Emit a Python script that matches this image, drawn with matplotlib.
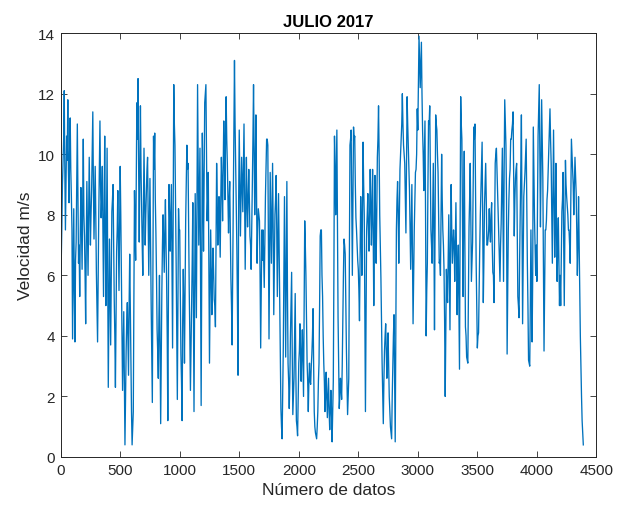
import numpy as np
import matplotlib
matplotlib.use("Agg")
import matplotlib.pyplot as plt

# Velocidad del viento (m/s): muestras leídas cada 10 datos (x = 0, 10, 20, ...)
velocidad = [
    4.2, 7.6, 9.8, 12.1, 7.5, 10.6, 11.8, 8.4, 11.2, 8.6,
    3.9, 8.2, 3.8, 7.1, 11.0, 6.4, 5.3, 8.9, 6.2, 10.5,
    7.3, 4.4, 9.1, 6.0, 9.9, 7.0, 8.8, 11.4, 7.2, 9.6,
    6.1, 3.8, 8.0, 11.1, 7.9, 9.6, 5.3, 10.6, 5.0, 10.2,
    2.3, 7.2, 3.7, 8.1, 9.0, 5.2, 2.3, 6.8, 8.8, 5.5,
    9.6, 6.0, 2.2, 4.8, 0.4, 3.5, 5.1, 2.7, 6.7, 3.0,
    0.4, 1.5, 8.8, 6.5, 11.7, 12.5, 7.1, 11.6, 8.2, 6.0,
    10.2, 7.0, 8.8, 9.9, 6.0, 9.2, 5.1, 1.8, 10.6, 10.7,
    7.4, 4.2, 2.6, 6.0, 1.1, 5.5, 8.0, 6.1, 8.5, 5.8,
    1.2, 9.0, 6.8, 9.0, 3.6, 12.3, 10.3, 6.4, 1.9, 8.2,
    7.5, 3.4, 1.2, 6.2, 3.1, 7.8, 10.3, 9.7, 5.5, 2.2,
    5.0, 8.4, 1.5, 8.7, 4.6, 12.3, 7.0, 10.2, 1.7, 10.7,
    6.8, 11.7, 12.3, 7.8, 9.4, 3.1, 7.5, 4.7, 6.9, 5.2,
    4.3, 9.7, 7.0, 8.6, 6.6, 9.9, 7.8, 11.1, 8.5, 11.9,
    9.7, 7.4, 9.1, 5.9, 3.7, 8.0, 13.1, 9.7, 6.9, 2.7,
    10.8, 7.3, 9.9, 8.1, 11.0, 6.2, 9.9, 7.6, 9.5, 7.3,
    6.2, 9.0, 12.3, 8.0, 11.3, 6.4, 8.2, 7.8, 3.6, 7.5,
    7.5, 5.6, 8.6, 10.5, 10.3, 3.9, 9.4, 6.4, 9.7, 4.7,
    8.0, 9.3, 5.3, 8.7, 5.5, 1.6, 0.6, 3.6, 8.6, 3.3,
    9.1, 3.1, 1.6, 4.0, 6.1, 1.4, 2.6, 5.4, 1.2, 0.7,
    3.1, 4.4, 2.5, 4.2, 2.0, 7.8, 6.0, 3.1, 1.5, 3.1,
    2.4, 3.4, 4.9, 1.5, 0.8, 0.6, 1.5, 3.1, 7.3, 7.5,
    5.3, 3.1, 1.5, 2.8, 1.3, 2.6, 0.9, 2.2, 0.5, 2.5,
    10.6, 8.0, 10.8, 4.6, 1.6, 2.6, 1.9, 4.5, 7.2, 6.7,
    3.6, 1.4, 2.6, 10.3, 10.8, 6.0, 10.9, 10.6, 7.9, 7.0,
    6.2, 4.5, 8.6, 6.0, 10.4, 8.0, 1.5, 7.5, 8.7, 6.8,
    9.5, 7.0, 9.5, 5.0, 9.3, 6.4, 9.9, 11.6, 8.0, 5.9,
    3.1, 1.1, 3.5, 4.4, 2.6, 4.1, 2.0, 1.0, 0.6, 3.1,
    4.7, 0.5, 7.5, 9.1, 6.4, 9.5, 10.5, 12.0, 10.3, 9.7,
    7.4, 11.9, 10.3, 8.8, 6.2, 9.0, 4.4, 7.5, 9.4, 10.0,
    10.8, 13.9, 12.2, 13.7, 10.8, 8.8, 11.1, 4.0, 6.4, 11.1,
    11.6, 7.5, 6.4, 9.7, 4.2, 11.3, 10.8, 9.4, 6.4, 6.0,
    10.0, 7.5, 6.2, 2.0, 6.2, 5.1, 8.0, 4.2, 9.0, 6.4,
    7.5, 5.8, 8.4, 4.7, 7.0, 2.9, 11.9, 10.5, 5.3, 10.1,
    4.3, 3.3, 3.1, 7.6, 9.7, 5.8, 7.1, 10.9, 11.0, 6.4,
    3.6, 4.1, 6.9, 8.8, 10.4, 5.1, 8.3, 9.7, 7.0, 7.2,
    8.2, 7.1, 8.4, 6.1, 5.1, 9.7, 10.2, 8.8, 7.3, 5.8,
    7.7, 10.2, 5.8, 11.8, 10.3, 3.4, 7.5, 9.2, 10.5, 10.8,
    11.4, 7.3, 9.2, 9.7, 5.3, 4.6, 8.0, 11.3, 4.4, 8.6,
    9.4, 10.5, 6.4, 3.2, 3.0, 7.5, 3.8, 10.9, 7.9, 6.0,
    5.8, 10.6, 12.3, 7.6, 11.8, 9.2, 3.5, 7.5, 7.8, 8.8,
    10.3, 11.5, 9.7, 6.4, 10.8, 6.6, 9.7, 5.8, 7.9, 5.0,
    5.0, 8.1, 9.4, 5.0, 9.8, 8.6, 8.0, 7.5, 6.4, 10.5,
    9.5, 8.0, 9.9, 8.7, 6.0, 8.6, 5.2, 2.9, 1.2, 0.4,
]

# Valores intermedios leídos entre las muestras anteriores (x = 5, 15, 25, ...)
velocidad_intermedia = [
    6.5, 9.0, 10.5, 9.5, 9.0, 9.8, 9.5, 10.0, 9.5, 7.5,
    6.0, 5.5, 6.5, 9.0, 8.5, 7.0, 7.5, 7.5, 8.5, 8.0,
    6.0, 7.0, 7.5, 8.0, 8.5, 8.0, 10.0, 9.0, 8.5, 8.0,
    5.0, 6.0, 9.5, 9.0, 8.5, 7.5, 8.0, 7.5, 7.5, 6.0,
    5.0, 5.5, 6.0, 8.5, 7.0, 4.0, 4.5, 7.5, 7.0, 7.5,
    8.0, 4.0, 3.5, 2.5, 2.0, 4.5, 4.0, 5.0, 5.0, 1.5,
    1.0, 5.0, 7.5, 9.0, 10.5, 9.5, 9.5, 9.5, 7.0, 8.0,
    8.5, 8.0, 9.5, 8.0, 7.5, 7.0, 3.5, 6.0, 9.5, 8.5,
    6.0, 3.5, 4.5, 3.5, 3.5, 7.0, 7.0, 7.5, 7.0, 4.0,
    5.0, 8.0, 8.0, 6.5, 8.0, 11.0, 8.5, 4.0, 5.0, 7.5,
    5.5, 2.5, 4.5, 5.0, 5.5, 9.0, 9.5, 7.5, 4.0, 3.5,
    6.5, 5.0, 5.0, 6.5, 8.5, 9.5, 8.5, 6.0, 6.0, 9.0,
    9.5, 12.0, 10.0, 8.5, 6.5, 5.5, 6.0, 6.0, 6.0, 5.0,
    7.0, 8.5, 8.0, 7.5, 8.5, 9.0, 9.5, 10.0, 10.5, 10.5,
    8.5, 8.5, 7.5, 5.0, 6.0, 10.5, 11.0, 8.5, 5.0, 8.5,
    9.0, 8.5, 9.0, 9.5, 8.5, 8.0, 8.5, 8.5, 8.5, 7.0,
    7.5, 10.5, 10.0, 9.5, 9.0, 7.5, 8.0, 6.0, 5.5, 6.5,
    6.5, 7.0, 9.5, 10.5, 7.0, 6.5, 8.0, 8.0, 7.5, 6.5,
    8.5, 7.5, 7.0, 7.0, 3.5, 1.0, 2.0, 6.0, 6.0, 6.0,
    5.5, 2.5, 2.5, 5.0, 3.5, 2.0, 4.0, 3.0, 1.0, 2.0,
    3.5, 3.5, 3.5, 3.0, 5.0, 7.0, 4.5, 2.5, 2.5, 2.5,
    3.0, 4.0, 3.0, 1.0, 0.7, 1.0, 2.5, 5.0, 7.5, 6.0,
    4.0, 2.5, 2.0, 2.0, 2.0, 1.5, 1.5, 1.5, 1.5, 6.0,
    9.5, 9.5, 7.5, 3.0, 2.0, 2.3, 3.0, 6.0, 7.0, 5.0,
    2.5, 2.0, 6.5, 10.5, 8.5, 8.5, 10.5, 9.0, 7.5, 6.5,
    5.5, 6.5, 7.5, 8.0, 9.0, 5.0, 4.5, 8.0, 7.5, 8.0,
    8.5, 8.0, 7.5, 7.0, 8.0, 8.0, 10.5, 10.0, 7.0, 4.5,
    2.0, 2.5, 4.0, 3.5, 3.5, 3.0, 1.5, 0.8, 2.0, 4.0,
    2.5, 4.0, 8.5, 8.0, 8.0, 10.0, 11.0, 11.0, 10.0, 8.5,
    9.5, 11.0, 9.5, 7.5, 7.5, 6.5, 6.0, 8.5, 9.5, 11.5,
    12.5, 13.0, 13.0, 12.0, 10.0, 10.0, 8.0, 5.5, 9.0, 11.0,
    9.5, 7.0, 8.0, 7.5, 8.0, 11.0, 10.0, 8.0, 6.5, 8.0,
    8.5, 7.0, 4.5, 4.0, 5.5, 6.5, 6.0, 7.0, 7.5, 7.0,
    7.0, 7.0, 6.5, 6.0, 5.0, 7.5, 11.0, 8.0, 8.0, 7.0,
    4.0, 3.2, 5.5, 8.5, 8.0, 6.5, 9.0, 10.5, 8.5, 5.0,
    4.0, 5.5, 8.0, 9.5, 7.5, 6.5, 9.0, 8.5, 7.0, 7.5,
    7.5, 8.0, 7.0, 6.0, 7.5, 10.0, 9.5, 8.0, 6.5, 7.0,
    9.0, 8.0, 9.5, 11.0, 8.5, 5.5, 8.5, 9.5, 10.5, 11.0,
    9.5, 8.5, 9.5, 7.5, 5.0, 6.5, 9.5, 7.5, 6.5, 9.0,
    10.0, 8.5, 5.0, 3.1, 5.0, 5.5, 6.0, 9.5, 7.0, 7.0,
    8.0, 11.5, 10.0, 9.5, 10.5, 6.5, 5.5, 7.5, 8.5, 9.5,
    11.0, 10.5, 8.0, 8.5, 8.5, 8.0, 7.5, 7.0, 6.5, 6.0,
    6.5, 8.5, 7.0, 7.5, 9.0, 8.3, 7.5, 7.0, 8.5, 10.0,
    9.0, 9.0, 9.3, 7.5, 7.0, 7.0, 4.0, 2.0, 0.8,
]

paso = 10  # número de datos entre muestras
x_ticks = [0, 500, 1000, 1500, 2000, 2500, 3000, 3500, 4000, 4500]
y_ticks = [0, 2, 4, 6, 8, 10, 12, 14]

# intercalar muestras e intermedios
serie = np.empty(len(velocidad) + len(velocidad_intermedia))
serie[0::2] = velocidad
serie[1::2] = velocidad_intermedia
x = np.arange(len(serie)) * (paso / 2)

plt.rcParams['font.family'] = ['Liberation Sans', 'DejaVu Sans']

fig = plt.figure(figsize=(6.19, 5.10), dpi=100)
ax = fig.add_axes([0.098, 0.102, 0.8655, 0.831])

ax.plot(x, serie, color='#0072BD', linewidth=0.95)

ax.set_xlim(0, 4500)
ax.set_ylim(0, 14)
ax.set_xticks(x_ticks)
ax.set_yticks(y_ticks)
ax.tick_params(direction='in', top=True, right=True, length=4, width=0.6,
               colors='#262626', labelsize=11, pad=4)
for s in ax.spines.values():
    s.set_color('#262626')
    s.set_linewidth(0.7)

ax.set_title('JULIO 2017', fontsize=12, fontweight='bold', color='black', pad=5)
ax.set_xlabel('Número de datos', fontsize=12.5, color='#262626')
ax.set_ylabel('Velocidad m/s', fontsize=12.5, color='#262626')

fig.savefig('out.png', dpi=100)
